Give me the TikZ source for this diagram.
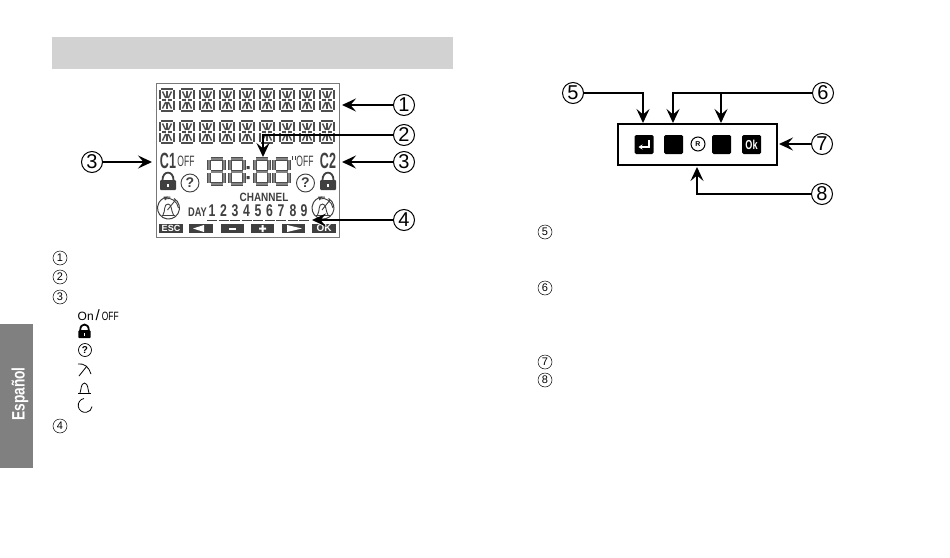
\documentclass[tikz,border=0pt]{standalone}
\usepackage{fontspec}
\usepackage{graphicx}
\setmainfont{Liberation Sans}
\usetikzlibrary{arrows.meta}
\definecolor{lcdg}{HTML}{404040}
\definecolor{seg}{HTML}{4E4E4E}
\definecolor{tabg}{HTML}{808080}
\definecolor{headg}{HTML}{D2D2D2}
\newcommand{\cond}[2]{\scalebox{#1}[1]{#2}}
\newcommand{\fsz}[1]{\fontsize{#1}{#1}\selectfont}
\tikzset{
  bignum/.style={circle,draw=black,line width=1pt,minimum size=21pt,inner sep=0pt,font=\fsz{20}},
  smallnum/.style={circle,draw=black,line width=.5pt,minimum size=14pt,inner sep=0pt,font=\fsz{11}},
  leader/.style={draw=black,line width=2.5pt,-{Stealth[length=14pt,width=13pt,inset=5.5pt]}},
  segline/.style={draw=seg,line width=2.5pt},
  thinseg/.style={draw=seg,line width=.9pt,double=seg!70,double distance=2pt},
  keybox/.style={fill=lcdg,draw=none,inner sep=0pt,minimum height=9pt,text=white},
  panelkey/.style={fill=black,rounded corners=1.5pt,draw=none,inner sep=0pt,minimum width=19pt,minimum height=19pt,text=white},
  lcdtext/.style={text=lcdg,inner sep=0pt},
}
\newcommand{\charseg}[2]{%
  \begin{scope}[shift={(#1,#2)}]
    \draw[segline] (2,1.2) -- (14,1.2);
    \draw[segline] (2,22.8) -- (14,22.8);
    \draw[segline] (1.2,2) -- (1.2,11) (1.2,13) -- (1.2,22) (14.8,2) -- (14.8,11) (14.8,13) -- (14.8,22);
    \draw[segline,line width=1.5pt] (3,12) -- (7,12) (9,12) -- (13,12);
    \draw[segline,line width=1.5pt] (8,3) -- (8,10) (8,14) -- (8,21);
    \draw[segline,line width=1.5pt] (3.5,3.5) -- (6.8,10) (12.5,3.5) -- (9.2,10) (3.5,20.5) -- (6.8,14) (12.5,20.5) -- (9.2,14);
  \end{scope}}
\newcommand{\digitseg}[2]{%
  \begin{scope}[shift={(#1,#2)}]
    \draw[thinseg] (3,1.8) -- (15,1.8);
    \draw[thinseg] (3,14.5) -- (15,14.5);
    \draw[thinseg] (3,27.2) -- (15,27.2);
    \draw[thinseg] (1.8,3.4) -- (1.8,12.6) (1.8,16.4) -- (1.8,25.6) (16.2,3.4) -- (16.2,12.6) (16.2,16.4) -- (16.2,25.6);
  \end{scope}}
\newcommand{\lockicon}[4]{% cx, top, scale, colour
  \begin{scope}[shift={(#1,#2)},scale=#3]
    \fill[#4,rounded corners=1pt] (-8,8) rectangle (8,18);
    \draw[#4,line width=1.8pt] (-5.5,8) .. controls (-5.5,-1.8) and (5.5,-1.8) .. (5.5,8);
    \fill[white] (-.9,12) rectangle (.9,15);
  \end{scope}}
\newcommand{\alarmicon}[2]{%
  \begin{scope}[shift={(#1,#2)}]
    \draw[lcdg,line width=1pt] (5.5,-9.5) arc[start angle=60,end angle=-280,radius=11pt];
    \fill[lcdg] (-5,-11.5) -- (-.5,-11.5) -- (-3.5,-7.5) -- cycle;
    \draw[lcdg,line width=.9pt] (-7,7) -- (6.5,7);
    \draw[lcdg,line width=.9pt] (-5.5,7) .. controls (-3,3) and (-5,-4) .. (-.5,-4) .. controls (3.5,-4) and (2.5,3) .. (5,7);
    \draw[lcdg,line width=.9pt] (-1,2) -- (7,-8);
    \draw[lcdg,line width=.9pt] (-3,-9) .. controls (2,-11.5) and (9,-6.5) .. (10,0);
  \end{scope}}
\begin{document}
\begin{tikzpicture}[x=1pt,y=-1pt]
\path[use as bounding box,fill=white] (0,0) rectangle (950,557);
% header and side tab
\fill[headg] (52,37) rectangle (453,69);
\fill[tabg] (0,324) rectangle (33,468);
\node[rotate=90,text=white,font=\fsz{18}\bfseries,inner sep=0pt] (tabtext) at (20,394) {\cond{0.76}{Español}};
% LCD frame
\draw[draw=lcdg!70,line width=.8pt] (156.5,83.5) rectangle (339,237);
\foreach \i in {0,...,8} {
  \charseg{159+20*\i}{88}
  \charseg{159+20*\i}{120}
}
\node[lcdtext,font=\fsz{22}\bfseries] (cone) at (168,161) {\cond{0.57}{C1}};
\node[lcdtext,font=\fsz{15}] (offa) at (186,161.5) {\cond{0.57}{OFF}};
\node[lcdtext,font=\fsz{15}] (offb) at (305,161.5) {\cond{0.57}{OFF}};
\node[lcdtext,font=\fsz{22}\bfseries] (ctwo) at (328,160.5) {\cond{0.57}{C2}};
\draw[lcdg,line width=.9pt] (292.5,156) -- (292.5,160) (295,156) -- (295,160);
\digitseg{207.5}{157}
\digitseg{228}{157}
\digitseg{253}{157}
\digitseg{272.5}{157}
\fill[lcdg] (246.5,166) rectangle (249.5,169) (246.5,176) rectangle (249.5,179);
\lockicon{168}{172}{1}{lcdg}
\lockicon{328}{172}{1}{lcdg}
\node[circle,draw=lcdg,line width=.9pt,minimum size=18pt,inner sep=0pt,text=lcdg,font=\fsz{14}\bfseries] (qa) at (190,183) {?};
\node[circle,draw=lcdg,line width=.9pt,minimum size=18pt,inner sep=0pt,text=lcdg,font=\fsz{14}\bfseries] (qb) at (305.5,183) {?};
\alarmicon{168.5}{208}
\alarmicon{323}{208}
\node[lcdtext,font=\fsz{12}\bfseries] (channel) at (264,197.5) {\cond{0.83}{CHANNEL}};
\node[lcdtext,font=\fsz{12.5}\bfseries] (dayl) at (197.5,212.5) {\cond{0.74}{DAY}};
\foreach \d/\x in {1/212,2/223.5,3/235,4/246.5,5/258,6/269.5,7/281,8/293,9/304} {
  \node[lcdtext,font=\fsz{17}\bfseries] (d\d) at (\x,211) {\cond{0.72}{\d}};
  \draw[lcdg,line width=.9pt] (\x-5,220) -- (\x+5,220);
}
\node[keybox,minimum width=24pt,font=\fsz{9}\bfseries] (kesc) at (171,228.5) {ESC};
\node[keybox,minimum width=24pt] (kleft) at (201,228.5) {};
\node[keybox,minimum width=23pt] (kminus) at (232.5,228.5) {};
\node[keybox,minimum width=23pt] (kplus) at (262.5,228.5) {};
\node[keybox,minimum width=23pt] (kright) at (293.5,228.5) {};
\node[keybox,minimum width=24pt,font=\fsz{10}\bfseries] (kok) at (324,228.5) {OK};
\fill[white] (193,228.5) -- (204,225) -- (204,232) -- cycle;
\fill[white] (229,227.5) rectangle (236,229.5);
\fill[white] (259,227.5) rectangle (266,229.5) (261.5,225) rectangle (263.5,232);
\fill[white] (302,228.5) -- (287,225) -- (287,232) -- cycle;
% callouts, LCD
\node[bignum] (ca) at (404,105) {1};
\node[bignum] (cb) at (404,135) {2};
\node[bignum] (cc) at (92,162) {3};
\node[bignum] (cd) at (404,162) {3};
\node[bignum] (ce) at (404,220) {4};
\coordinate (ta) at (342,105);
\coordinate (tb) at (263,157);
\coordinate (tc) at (152,162);
\coordinate (td) at (342,162);
\coordinate (te) at (312,220);
\draw[leader] (ca) -- (ta);
\draw[leader] (cb) -| (tb);
\draw[leader] (cc) -- (tc);
\draw[leader] (cd) -- (td);
\draw[leader] (ce) -- (te);
% left legend
\node[smallnum] (la) at (60,258) {1};
\node[smallnum] (lb) at (60,277) {2};
\node[smallnum] (lc) at (60,297) {3};
\node[smallnum] (ld) at (60,426) {4};
\node[inner sep=0pt,font=\fsz{12},anchor=west] (onoff) at (77.5,315) {On\,{\fsz{15}/}\,\cond{0.7}{OFF}};
\lockicon{84.5}{324}{.78}{black}
\node[circle,draw=black,line width=.7pt,minimum size=13pt,inner sep=0pt,font=\fsz{10}\bfseries] (lq) at (85,350) {?};
\draw[black,line width=.8pt] (78,364) .. controls (84,363) and (89,367) .. (91,374);
\draw[black,line width=.8pt] (79,376) -- (87,366);
\draw[black,line width=.8pt] (78,393) -- (91,393);
\draw[black,line width=.8pt] (80,393) .. controls (81.5,389) and (80.5,384) .. (84.5,383) .. controls (88.5,384) and (87.5,389) .. (89,393);
\draw[black,line width=.8pt] (84,398.5) arc[start angle=100,end angle=350,radius=7pt];
% right panel
\draw[black,line width=1.5pt] (618,124) rectangle (777,165);
\node[panelkey] (kenter) at (644,144.5) {};
\draw[white,line width=1.6pt,-{Stealth[length=4pt,width=5pt]}] (649,140) -- (649,147) -- (638.5,147);
\node[panelkey] (kb) at (673.5,144.5) {};
\node[circle,draw=black,line width=1pt,minimum size=14pt,inner sep=0pt,font=\fsz{7}\bfseries] (kr) at (698,144) {R};
\node[panelkey] (kc) at (721.5,144.5) {};
\node[panelkey,font=\fsz{13}\bfseries] (kd) at (751.5,144.5) {\cond{0.7}{Ok}};
\node[bignum] (cf) at (573,93) {5};
\node[bignum] (cg) at (823,93) {6};
\node[bignum] (ch) at (822,144) {7};
\node[bignum] (ci) at (822,194) {8};
\coordinate (tf) at (643,123);
\coordinate (tg) at (673,123);
\coordinate (th) at (721,123);
\coordinate (ti) at (779,144);
\coordinate (tj) at (697,167);
\draw[leader] (cf) -| (tf);
\draw[leader] (cg) -| (tg);
\draw[leader] (cg) -| (th);
\draw[leader] (ch) -- (ti);
\draw[leader] (ci) -| (tj);
% right legend
\node[smallnum] (lf) at (545,232) {5};
\node[smallnum] (lg) at (545,288) {6};
\node[smallnum] (lh) at (545,362) {7};
\node[smallnum] (li) at (545,380) {8};
\end{tikzpicture}
\end{document}
